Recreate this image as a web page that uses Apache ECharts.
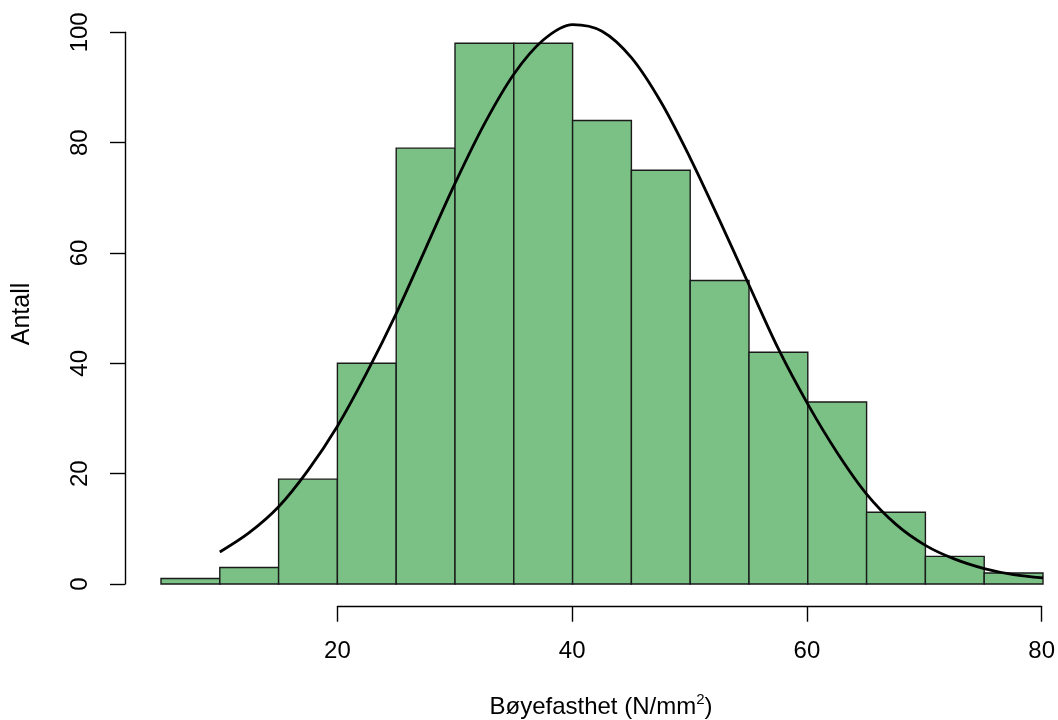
<!DOCTYPE html>
<html>
<head>
<meta charset="utf-8">
<script src="https://cdn.jsdelivr.net/npm/echarts@6/dist/echarts.min.js"></script>
<style>
html,body{margin:0;padding:0;background:#fff;}
#chart{width:1058px;height:720px;}
</style>
</head>
<body>
<div id="chart"></div>
<script>
// Histogram bins (left edges), bin width and counts
const binStarts = [5, 10, 15, 20, 25, 30, 35, 40, 45, 50, 55, 60, 65, 70, 75];
const binWidth = 5;
const counts = [1, 3, 19, 40, 79, 98, 98, 84, 75, 55, 42, 33, 13, 5, 2];

// Fitted curve
const curveX = [10, 12.5, 15, 17.5, 20, 22.5, 25, 27.5, 30, 32.5, 35, 37.5, 40, 42.5, 45, 47.5, 50, 52.5, 55, 57.5, 60, 62.5, 65, 67.5, 70, 72.5, 75, 77.5, 80];
const curveY = [5.8, 9.3, 14.0, 20.6, 28.6, 38.3, 49.0, 60.8, 72.6, 83.4, 92.4, 98.6, 101.4, 100.2, 95.4, 87.4, 77.2, 65.9, 54.2, 42.6, 32.6, 23.8, 16.3, 10.8, 7.0, 4.5, 2.8, 1.7, 1.1];

// Axis ticks
const xTicks = [20, 40, 60, 80];
const yTicks = [0, 20, 40, 60, 80, 100];

const xLabel = 'Bøyefasthet (N/mm{sup|2})';
const yLabel = 'Antall';

const FONT = 'Liberation Sans, Arial, sans-serif';
const chart = echarts.init(document.getElementById('chart'), null, {renderer: 'canvas'});

const histData = binStarts.map((s, i) => [s, s + binWidth, counts[i]]);
const curveData = curveX.map((x, i) => [x, curveY[i]]);

const option = {
  backgroundColor: '#ffffff',
  animation: false,
  grid: [
    {left: 161, right: 15, top: 4.7, bottom: 136},
    {left: 337.4, right: 15, top: 596.7, height: 10},
    {left: 125, width: 10, top: 32.3, height: 551.7}
  ],
  xAxis: [
    {gridIndex: 0, type: 'value', min: 5, max: 80, show: false},
    {gridIndex: 1, type: 'value', min: xTicks[0], max: xTicks[xTicks.length - 1], interval: 20,
     position: 'bottom',
     axisLine: {show: true, lineStyle: {color: '#000', width: 1.4}},
     axisTick: {show: true, length: 15, inside: false, lineStyle: {color: '#000', width: 1.4}},
     axisLabel: {show: true, margin: 33, color: '#000', fontFamily: FONT, fontSize: 24},
     splitLine: {show: false}},
    {gridIndex: 2, type: 'value', show: false}
  ],
  yAxis: [
    {gridIndex: 0, type: 'value', min: 0, max: 105, show: false},
    {gridIndex: 1, type: 'value', show: false},
    {gridIndex: 2, type: 'value', min: yTicks[0], max: yTicks[yTicks.length - 1], interval: 20,
     position: 'left',
     axisLine: {show: true, lineStyle: {color: '#000', width: 1.4}},
     axisTick: {show: true, length: 15, inside: false, lineStyle: {color: '#000', width: 1.4}},
     axisLabel: {show: true, rotate: 90, margin: 33, color: '#000', fontFamily: FONT, fontSize: 24},
     splitLine: {show: false}}
  ],
  graphic: [
    {type: 'text', x: 601, y: 707,
     style: {text: xLabel, fill: '#000', font: '24px ' + FONT, align: 'center', verticalAlign: 'middle',
       lineHeight: 30,
       rich: {sup: {fontSize: 15, fontFamily: FONT, fill: '#000', verticalAlign: 'top', lineHeight: 30}}}},
    {type: 'text', x: 22, y: 314, rotation: Math.PI / 2,
     style: {text: yLabel, fill: '#000', font: '25px ' + FONT, align: 'center', verticalAlign: 'middle'}}
  ],
  series: [
    {
      type: 'custom',
      xAxisIndex: 0, yAxisIndex: 0,
      data: histData,
      encode: {x: [0, 1], y: 2},
      renderItem: function (params, api) {
        const p0 = api.coord([api.value(0), 0]);
        const p1 = api.coord([api.value(1), api.value(2)]);
        return {
          type: 'rect',
          shape: {x: p0[0], y: p1[1], width: p1[0] - p0[0], height: p0[1] - p1[1]},
          style: {fill: '#7BC186', stroke: '#1a1a1a', lineWidth: 1.4}
        };
      },
      z: 2
    },
    {
      type: 'line',
      xAxisIndex: 0, yAxisIndex: 0,
      data: curveData,
      smooth: 0.33,
      showSymbol: false,
      symbol: 'none',
      clip: false,
      lineStyle: {color: '#000', width: 2.8},
      z: 3
    }
  ]
};
chart.setOption(option);
</script>
</body>
</html>
